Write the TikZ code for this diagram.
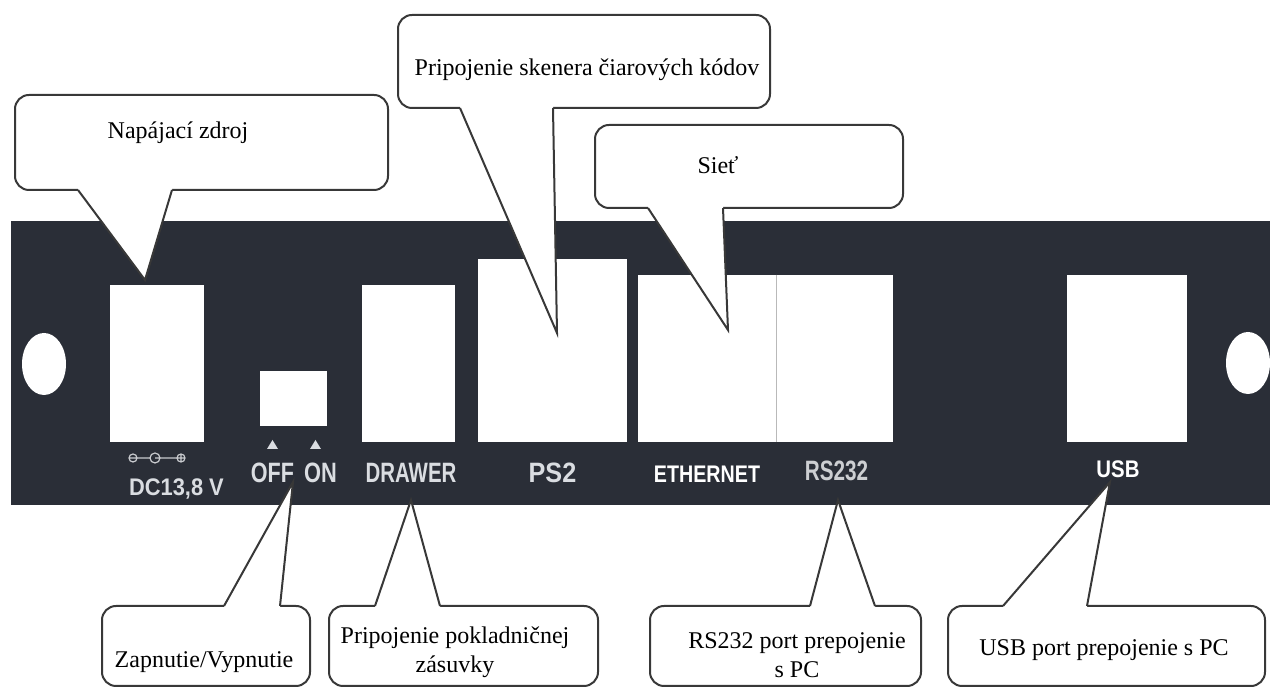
\documentclass[tikz,border=0pt]{standalone}
\usepackage{fontspec}
\setmainfont{Liberation Serif}
\setsansfont{Liberation Sans}
\usepackage{graphicx}
\usepackage{tikz}
\usetikzlibrary{shapes.geometric}
\usetikzlibrary{positioning}

\definecolor{panelgray}{HTML}{2A2E37}
\definecolor{labelgray}{HTML}{DADDE1}
\definecolor{rimgray}{HTML}{383838}

\newcommand{\slim}[2][0.75]{\scalebox{#1}[1]{#2}}

\tikzstyle{port} = [rectangle, draw=none, fill=white, inner sep=0pt]
\tikzstyle{hole} = [ellipse, fill=white, inner sep=0pt, minimum width=22pt, minimum height=31pt]
\tikzstyle{tag} = [inner sep=0pt, text=labelgray, font=\sffamily\bfseries\fontsize{14}{14}\selectfont]
\tikzstyle{small tag} = [tag, font=\sffamily\bfseries\fontsize{12}{12}\selectfont]
\tikzstyle{bubble} = [draw=rimgray, fill=white, line width=1pt, rounded corners=7pt]
\tikzstyle{beak} = [draw=rimgray, line width=1pt, line join=miter]
\tikzstyle{callout text} = [inner sep=0pt, align=center, font=\fontsize{12}{14.5}\selectfont]

\begin{document}
\begin{tikzpicture}[x=0.5pt, y=-0.5pt]
\useasboundingbox (0,0) rectangle (1270,688);

% Panel
\fill[panelgray] (11,221) rectangle (1270,505);
\node (lefthole) [hole] at (44,364) {};
\node (righthole) [hole] at (1248,363) {};

% Ports
\node (dcjack) [port, minimum width=47pt, minimum height=78.5pt] at (157,363.5) {};
\node (power) [port, minimum width=33.5pt, minimum height=27.5pt] at (293.5,398.5) {};
\node (drawer) [port, minimum width=46.5pt, minimum height=78.5pt] at (408.5,363.5) {};
\node (ps2) [port, minimum width=74.5pt, minimum height=91.5pt] at (552.5,350.5) {};
\node (lan) [port, minimum width=69pt, minimum height=83.5pt] at (707,358.5) {};
\node (rs232) [port, minimum width=58.5pt, minimum height=83.5pt] at (834.5,358.5) {};
\node (usb) [port, minimum width=60pt, minimum height=83.5pt] at (1127,358.5) {};
\draw[gray!55, line width=0.4pt] (lan.north east) -- (lan.south east);

% Panel labels
\node (dctag) [small tag, below=18pt of dcjack, xshift=9.75pt] {\slim[0.91]{DC13,8 V}};
\node (offtag) [tag, below=18pt of power, xshift=-10.5pt] {\slim[0.77]{OFF}};
\node (ontag) [tag, below=18pt of power, xshift=13.5pt] {\slim[0.78]{ON}};
\node (drawertag) [tag, below=10pt of drawer, xshift=1.25pt] {\slim[0.73]{DRAWER}};
\node (ps2tag) [tag, below=10pt of ps2] {\slim[0.9]{PS2}};
\node (lantag) [small tag, text=white, below=11.5pt of lan] {\slim[0.82]{ETHERNET}};
\node (rstag) [tag, text=labelgray!85!gray, below=9pt of rs232, xshift=1pt] {\slim[0.74]{RS232}};
\node (usbtag) [small tag, text=white, below=9pt of usb, xshift=-4.5pt] {\slim[0.85]{USB}};
\fill[labelgray] (267,449) -- (272.5,440) -- (278,449) -- cycle;
\fill[labelgray] (310,449) -- (315.5,440) -- (321,449) -- cycle;
% jack symbol
\draw[labelgray!80!gray, line width=0.6pt] (133,458) circle (4) (130,458) -- (136,458)
  (137,458) -- (150,458) (155,458) circle (5) (155,458) -- (160,458)
  (160,458) -- (177,458) (181,458) circle (4) (178,458) -- (184,458) (181,455) -- (181,461);

% Pointer tips
\coordinate (tipdc) at (145,280);
\coordinate (tipps2) at (557,333);
\coordinate (tiplan) at (728,330);
\coordinate (tippower) at (293,482);
\coordinate (tipdrawer) at (411,500);
\coordinate (tiprs) at (838,500);
\coordinate (tipusb) at (1110,482);

% Callouts
\draw[bubble] (15,95) rectangle (388,190);
\fill[white] (78,186) -- (78,190) -- (tipdc) -- (172,190) -- (172,186) -- cycle;
\draw[beak] (78,190) -- (tipdc) -- (172,190);
\node (napajanie) [callout text] at (178,133) {Napájací zdroj};

\draw[bubble] (398,15) rectangle (770,108);
\fill[white] (460,104) -- (460,108) -- (tipps2) -- (553,108) -- (553,104) -- cycle;
\draw[beak] (460,108) -- (tipps2) -- (553,108);
\node (skener) [callout text] at (587,70) {Pripojenie skenera čiarových kódov};

\draw[bubble] (595,125) rectangle (903,208);
\fill[white] (648,204) -- (648,208) -- (tiplan) -- (723,208) -- (723,204) -- cycle;
\draw[beak] (648,208) -- (tiplan) -- (723,208);
\node (siet) [callout text] at (718,165) {Sieť};

\draw[bubble] (102,606) rectangle (310,686);
\fill[white] (224,610) -- (224,606) -- (tippower) -- (280,606) -- (280,610) -- cycle;
\draw[beak] (224,606) -- (tippower) -- (280,606);
\node (vypinac) [callout text] at (204,662) {Zapnutie/Vypnutie};

\draw[bubble] (329,606) rectangle (598,686);
\fill[white] (375,610) -- (375,606) -- (tipdrawer) -- (440,606) -- (440,610) -- cycle;
\draw[beak] (375,606) -- (tipdrawer) -- (440,606);
\node (zasuvka) [callout text] at (455,652) {Pripojenie pokladničnej\\zásuvky};

\draw[bubble] (650,606) rectangle (921,686);
\fill[white] (810,610) -- (810,606) -- (tiprs) -- (875,606) -- (875,610) -- cycle;
\draw[beak] (810,606) -- (tiprs) -- (875,606);
\node (rsport) [callout text] at (797,655) {RS232 port prepojenie\\s PC};

\draw[bubble] (948,606) rectangle (1265,686);
\fill[white] (1003,610) -- (1003,606) -- (tipusb) -- (1087,606) -- (1087,610) -- cycle;
\draw[beak] (1003,606) -- (tipusb) -- (1087,606);
\node (usbport) [callout text] at (1104,650) {USB port prepojenie s PC};

\end{tikzpicture}
\end{document}
